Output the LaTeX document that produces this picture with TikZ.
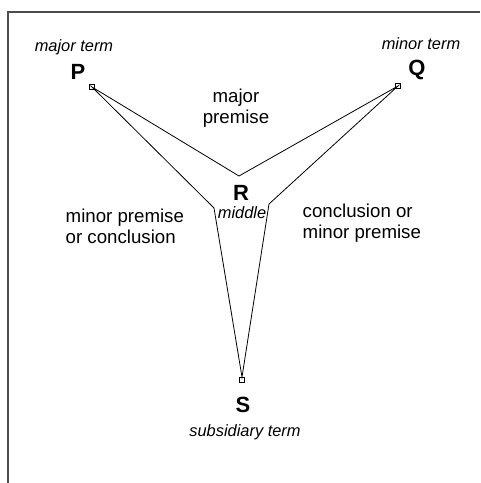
\documentclass[tikz,border=0pt]{standalone}
\usepackage{fontspec}
\setmainfont{Liberation Sans}
\usepackage{tikz}

\begin{document}
\begin{tikzpicture}[x=0.75pt,y=-0.75pt,
    term/.style={font=\fontsize{16.5}{18}\selectfont\bfseries},
    note/.style={font=\fontsize{12.3}{14}\selectfont\itshape},
    premise/.style={font=\fontsize{14}{15.75}\selectfont, align=left},
    dot/.style={draw, fill=white, inner sep=0pt, minimum size=4pt},
    edge/.style={line width=0.6pt}]
\useasboundingbox (0,0) rectangle (480,483);
% frame
\draw[line width=1.4pt, black!70] (8,483) -- (8,12) -- (480,12);
% corners of the figure
\coordinate (rtop) at (239,176);
\coordinate (rleft) at (214,208);
\coordinate (rright) at (269,204);
\node[dot] (p) at (92,87) {};
\node[dot] (q) at (398,86) {};
\node[dot] (s) at (242,380) {};
\draw[edge] (p.center) -- (rtop) -- (q.center) -- (rright) -- (s.north) -- (rleft) -- cycle;
% labels
\node[note] (pnote) at (74,47) {major term};
\node[term] (plabel) at (78,72) {P};
\node[note] (qnote) at (421,44) {minor term};
\node[term] (qlabel) at (417,70) {Q};
\node[premise, align=center] (major) at (236,108) {major\\premise};
\node[term] (rlabel) at (241,193) {R};
\node[note] (rnote) at (242,213) {middle};
\node[premise, anchor=west] (minor) at (61,226) {minor premise\\or conclusion};
\node[premise, anchor=west] (concl) at (298,223) {conclusion or\\minor premise};
\node[term] (slabel) at (243,405) {S};
\node[note] (snote) at (245,432) {subsidiary term};
\end{tikzpicture}
\end{document}
